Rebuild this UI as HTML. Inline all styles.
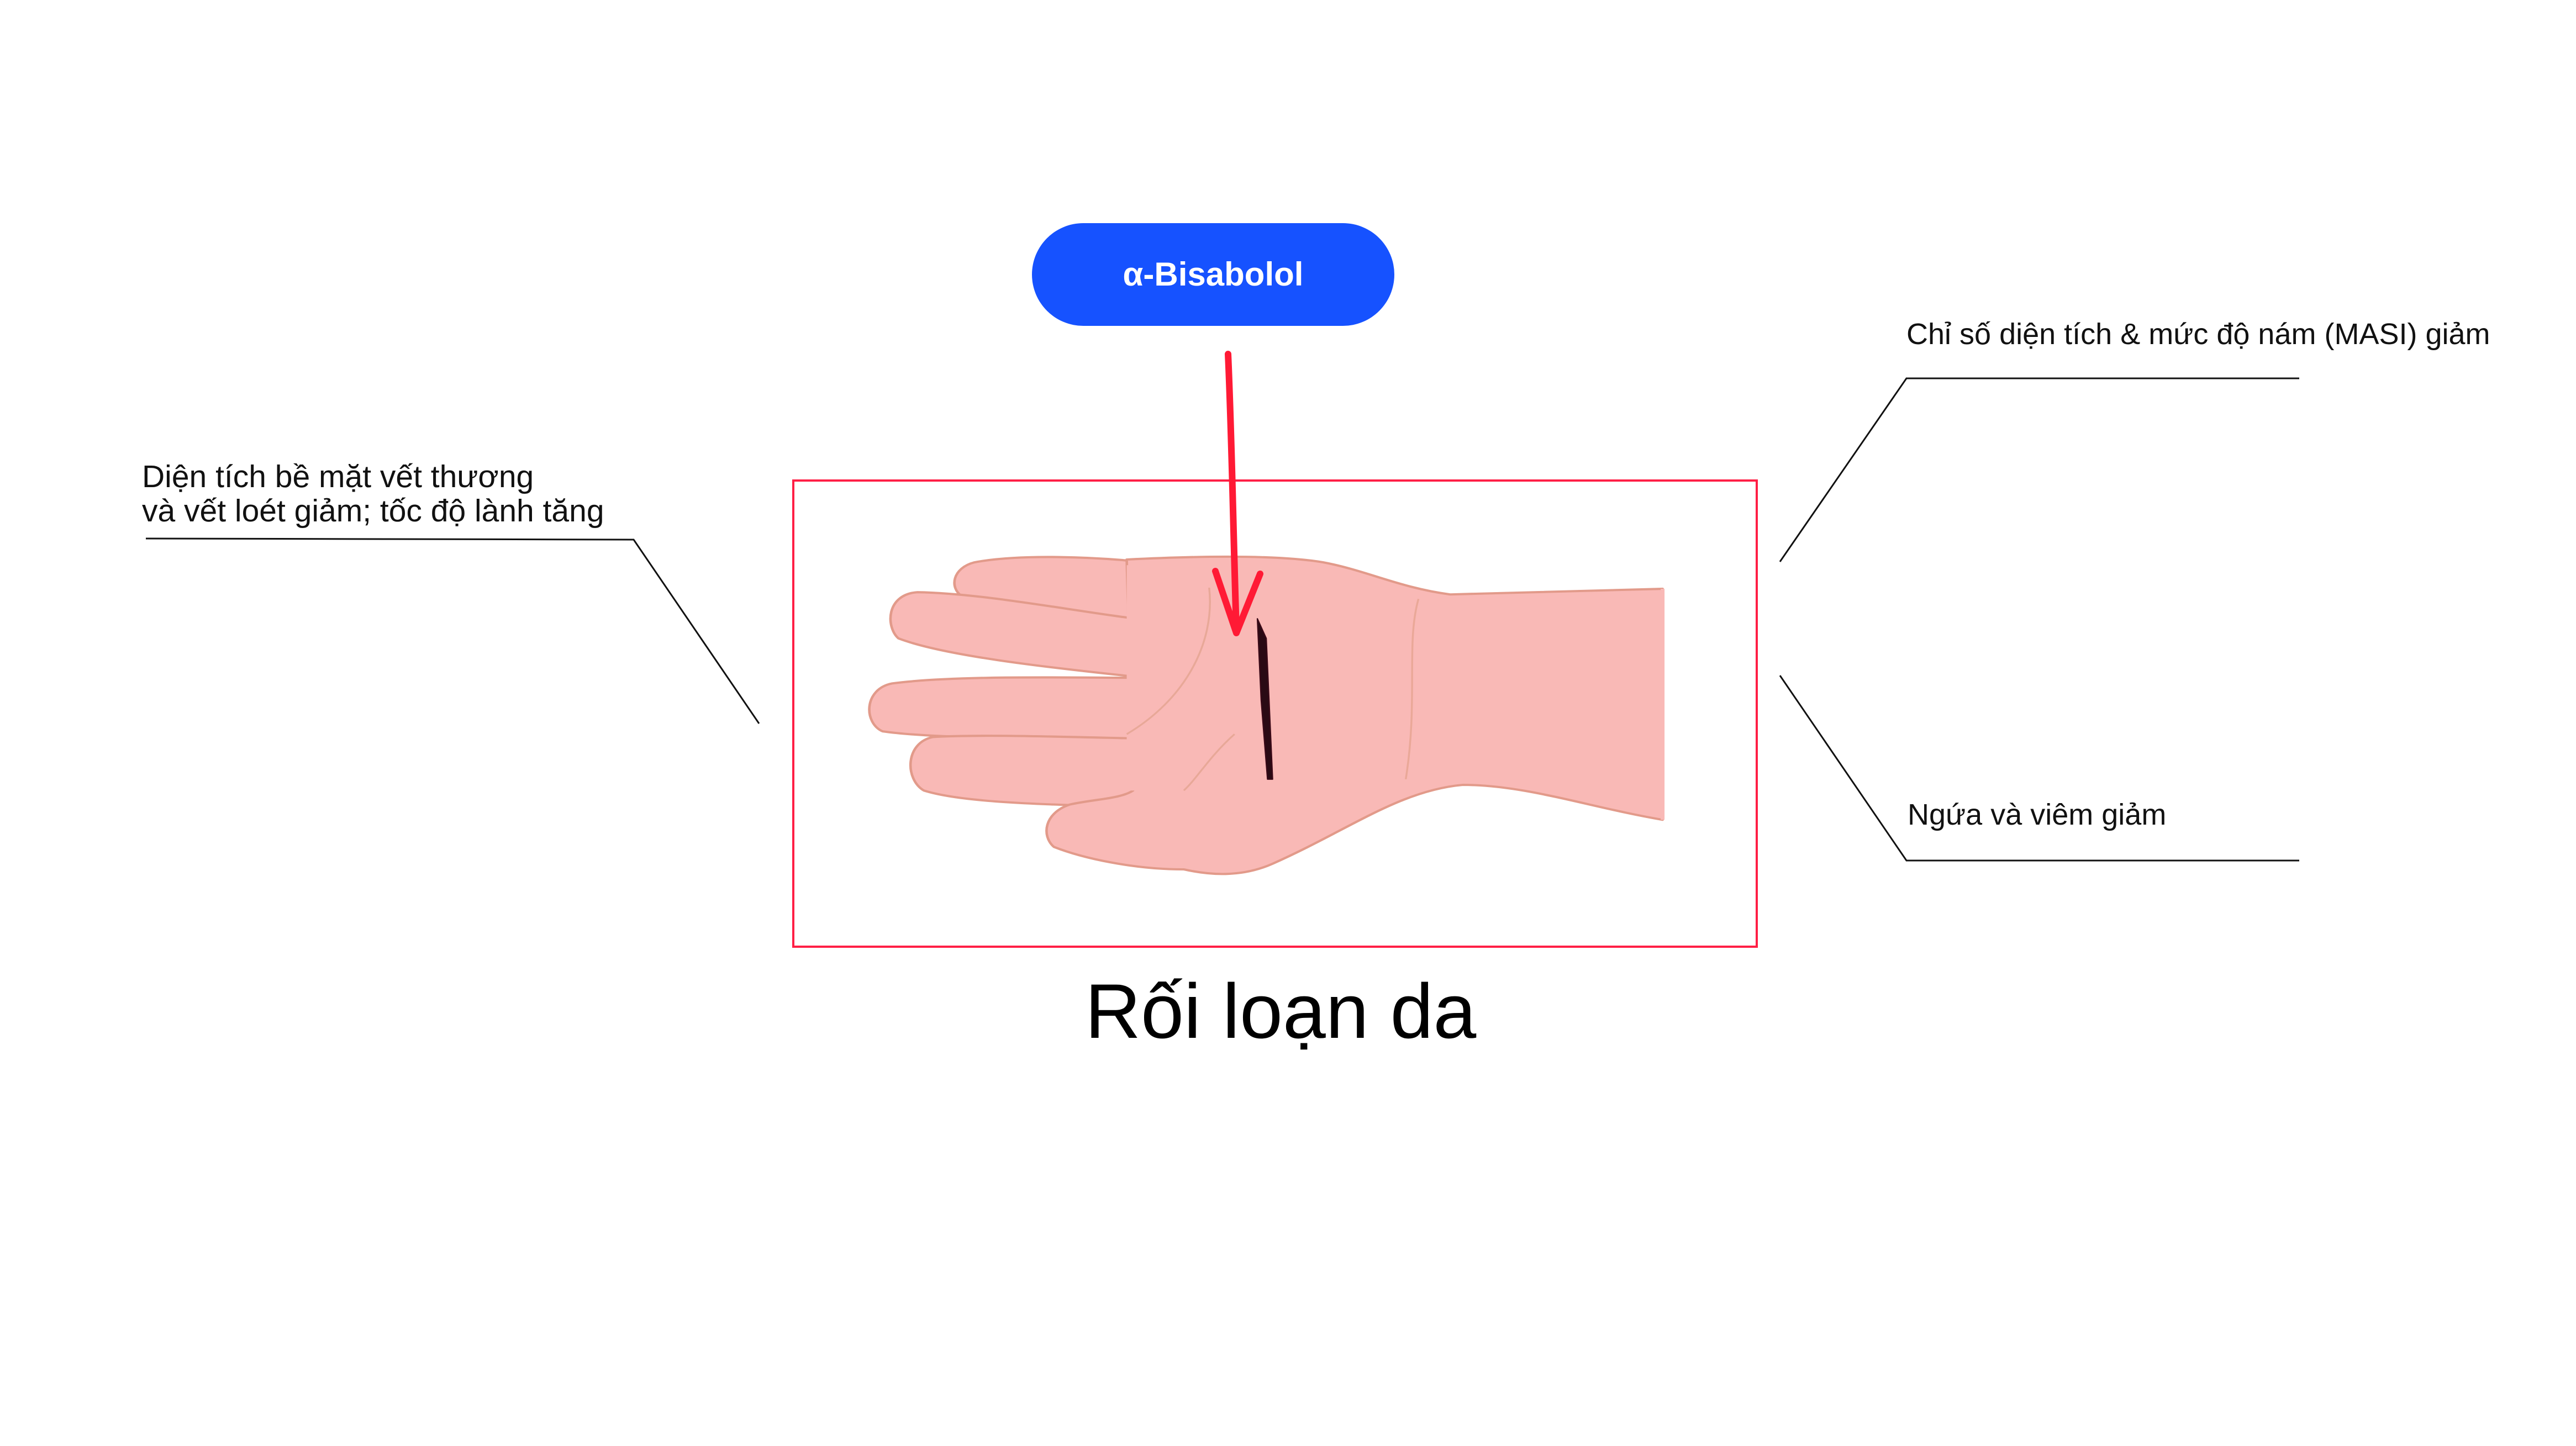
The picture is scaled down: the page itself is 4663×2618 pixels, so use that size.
<!DOCTYPE html>
<html><head><meta charset="utf-8"><style>
html,body{margin:0;padding:0;background:#fff;}
body{width:4663px;height:2618px;position:relative;overflow:hidden;font-family:"Liberation Sans",sans-serif;}
.t{position:absolute;color:#111;white-space:nowrap;}
</style></head><body>
<svg width="4663" height="2618" style="position:absolute;left:0;top:0">
  <rect x="1868" y="404" width="656" height="186" rx="93" fill="#1652ff"/>
  <text x="2196" y="517" font-family="Liberation Sans" font-weight="bold" font-size="60" fill="#fff" text-anchor="middle">α-Bisabolol</text>
  <rect x="1436" y="870" width="1744" height="844" fill="none" stroke="#ff1f45" stroke-width="4"/>
  <g transform="translate(1500,350) scale(1.148,1.02)" stroke="#e29a8a" stroke-width="4" fill="#f9b9b6" stroke-linejoin="round">
    <path d="M500 655 C420 645 300 640 230 655 C195 665 190 700 210 715 C260 740 380 750 520 760 Z"/>
    <path d="M520 760 C400 745 250 710 140 708 C90 712 90 770 110 790 C180 820 330 840 500 860 Z"/>
    <path d="M500 860 C380 860 200 855 100 870 C55 880 55 940 85 955 C180 970 350 965 500 970 Z"/>
    <path d="M500 968 C380 965 240 960 165 965 C120 975 120 1040 150 1060 C220 1085 380 1085 500 1090 Z"/>
    <path d="M470 650 C560 645 700 640 780 655 C850 670 900 700 980 712 L1315 702 L1315 1112 C1200 1090 1100 1050 1000 1050 C900 1060 820 1130 700 1190 C650 1215 600 1210 560 1200 C480 1200 400 1180 355 1160 C335 1140 340 1100 380 1085 C420 1075 460 1075 480 1060 L470 650 Z"/>
    <path d="M470 660 L470 1060 L500 1060 L500 660 Z" stroke="none"/>
    <path d="M1315 702 L1315 1112" stroke="#f9b9b6" stroke-width="6"/>
    <path d="M600 700 C610 800 560 900 470 960" fill="none" stroke="#e8a898" stroke-width="3"/>
    <path d="M640 960 C600 1000 580 1040 560 1060" fill="none" stroke="#e8a898" stroke-width="3"/>
    <path d="M930 720 C910 800 930 900 910 1040" fill="none" stroke="#eaa898" stroke-width="3"/>
    <path d="M676 755 L690 790 L700 1040 L692 1040 L682 900 Z" fill="#2a0a14" stroke="#3a0a18" stroke-width="2"/>
  </g>
  <path d="M2223 641 C2230 800 2232 950 2238 1140" fill="none" stroke="#ff1a35" stroke-width="12" stroke-linecap="round"/>
  <path d="M2200 1034 L2238 1146 L2281 1039" fill="none" stroke="#ff1a35" stroke-width="12" stroke-linecap="round" stroke-linejoin="round"/>
  <polyline points="264,975 1147,977 1374,1310" fill="none" stroke="#111" stroke-width="3"/>
  <polyline points="3222,1017 3451,685 4162,685" fill="none" stroke="#111" stroke-width="3"/>
  <polyline points="3222,1223 3451,1558 4162,1558" fill="none" stroke="#111" stroke-width="3"/>
</svg>
<div class="t" style="left:257px;top:832px;font-size:57px;line-height:62px;">Diện tích bề mặt vết thương<br>và vết loét giảm; tốc độ lành tăng</div>
<div class="t" style="left:3451px;top:574px;font-size:54px;">Chỉ số diện tích &amp; mức độ nám (MASI) giảm</div>
<div class="t" style="left:3453px;top:1444px;font-size:54px;">Ngứa và viêm giảm</div>
<div class="t" style="left:1964px;top:1750px;font-size:140px;color:#000;">Rối loạn da</div>
</body></html>
